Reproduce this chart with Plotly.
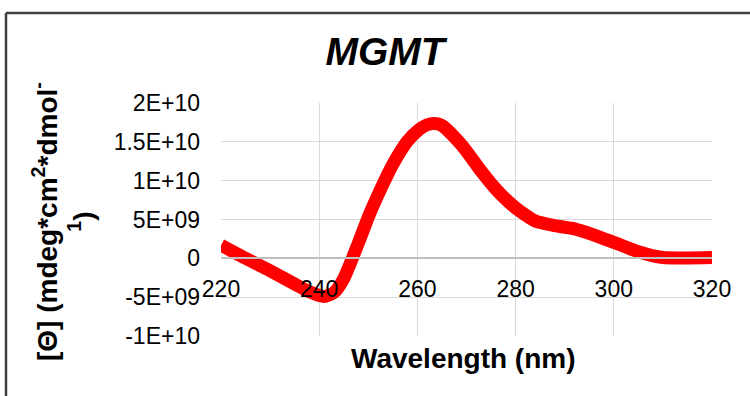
import plotly.graph_objects as go

# CD spectrum of MGMT
wavelength = [220, 225, 230, 235, 238, 241, 243, 245, 248, 250, 252, 255, 258, 260,
              262, 263.5, 265, 268, 270, 273, 276, 280, 284, 288, 292, 296, 300,
              305, 310, 315, 320]
ellipticity = [1.7e9, 0.0, -1.6e9, -3.3e9, -4.3e9, -4.9e9, -4.4e9, -2.6e9, 2.0e9,
               5.3e9, 8.2e9, 12.1e9, 15.1e9, 16.4e9, 17.2e9, 17.35e9, 17.1e9,
               15.3e9, 13.8e9, 11.2e9, 8.9e9, 6.5e9, 4.8e9, 4.2e9, 3.8e9, 3.0e9,
               2.05e9, 0.85e9, 0.1e9, 0.05e9, 0.1e9]

x_ticks = [220, 240, 260, 280, 300, 320]
y_ticks = [2e10, 1.5e10, 1e10, 5e9, 0, -5e9, -1e10]
y_tick_labels = ["2E+10", "1.5E+10", "1E+10", "5E+09", "0", "-5E+09", "-1E+10"]

W, H = 750, 396
L, R, T, B = 221, 38, 103, 60
PW, PH = W - L - R, H - T - B


def px(xp):
    return (xp - L) / PW


def py(yp):
    return (H - B - yp) / PH


fig = go.Figure()
fig.add_trace(go.Scatter(
    x=wavelength, y=ellipticity, mode="lines",
    line=dict(color="#FF0000", width=13, shape="spline", smoothing=0.6),
    hoverinfo="skip", showlegend=False,
))

font_main = "Liberation Sans, Arial, sans-serif"

fig.update_layout(
    width=W, height=H,
    margin=dict(l=L, r=R, t=T, b=B),
    paper_bgcolor="white", plot_bgcolor="white",
    font=dict(family=font_main, color="#000000"),
    title=dict(text="<b><i>MGMT</i></b>", x=385 / W, xanchor="center",
               y=1 - 51 / H, yanchor="middle", yref="container",
               font=dict(size=39, family=font_main, color="#000000")),
    xaxis=dict(
        range=[220, 320], tickvals=x_ticks, ticks="",
        showgrid=True, gridcolor="#D9D9D9", gridwidth=1,
        zeroline=False, showline=True, linecolor="#BFBFBF", linewidth=1.5,
        anchor="free", position=1 / 3,
        tickfont=dict(size=23, family=font_main, color="#000000"),
        ticklabelstandoff=10,
    ),
    yaxis=dict(
        range=[-1e10, 2e10], tickvals=y_ticks, ticktext=y_tick_labels, ticks="",
        showgrid=True, gridcolor="#D9D9D9", gridwidth=1, zeroline=False,
        showline=False,
        tickfont=dict(size=23, family=font_main, color="#000000"),
        ticklabelstandoff=20,
    ),
)

# Axis titles
fig.add_annotation(
    text="<b>Wavelength (nm)</b>", xref="paper", yref="paper",
    x=px(463), y=py(358),
    xanchor="center", yanchor="middle", showarrow=False,
    font=dict(size=28, family=font_main, color="#000000"),
)
fig.add_annotation(
    text="<b>[Θ] (mdeg*cm<sup>2</sup>*dmol<sup>-</sup><br><sup>1</sup>)</b>",
    xref="paper", yref="paper",
    x=px(63), y=py(222),
    xanchor="center", yanchor="middle", showarrow=False, textangle=-90,
    font=dict(size=28, family=font_main, color="#000000"),
)

# Chart frame
fig.add_shape(type="line", xref="paper", yref="paper",
              x0=px(6), x1=px(W), y0=py(13), y1=py(13),
              line=dict(color="#404040", width=2.5))
fig.add_shape(type="line", xref="paper", yref="paper",
              x0=px(6), x1=px(6), y0=py(13), y1=py(H + 5),
              line=dict(color="#404040", width=2.5))

fig.write_html("out.html")
